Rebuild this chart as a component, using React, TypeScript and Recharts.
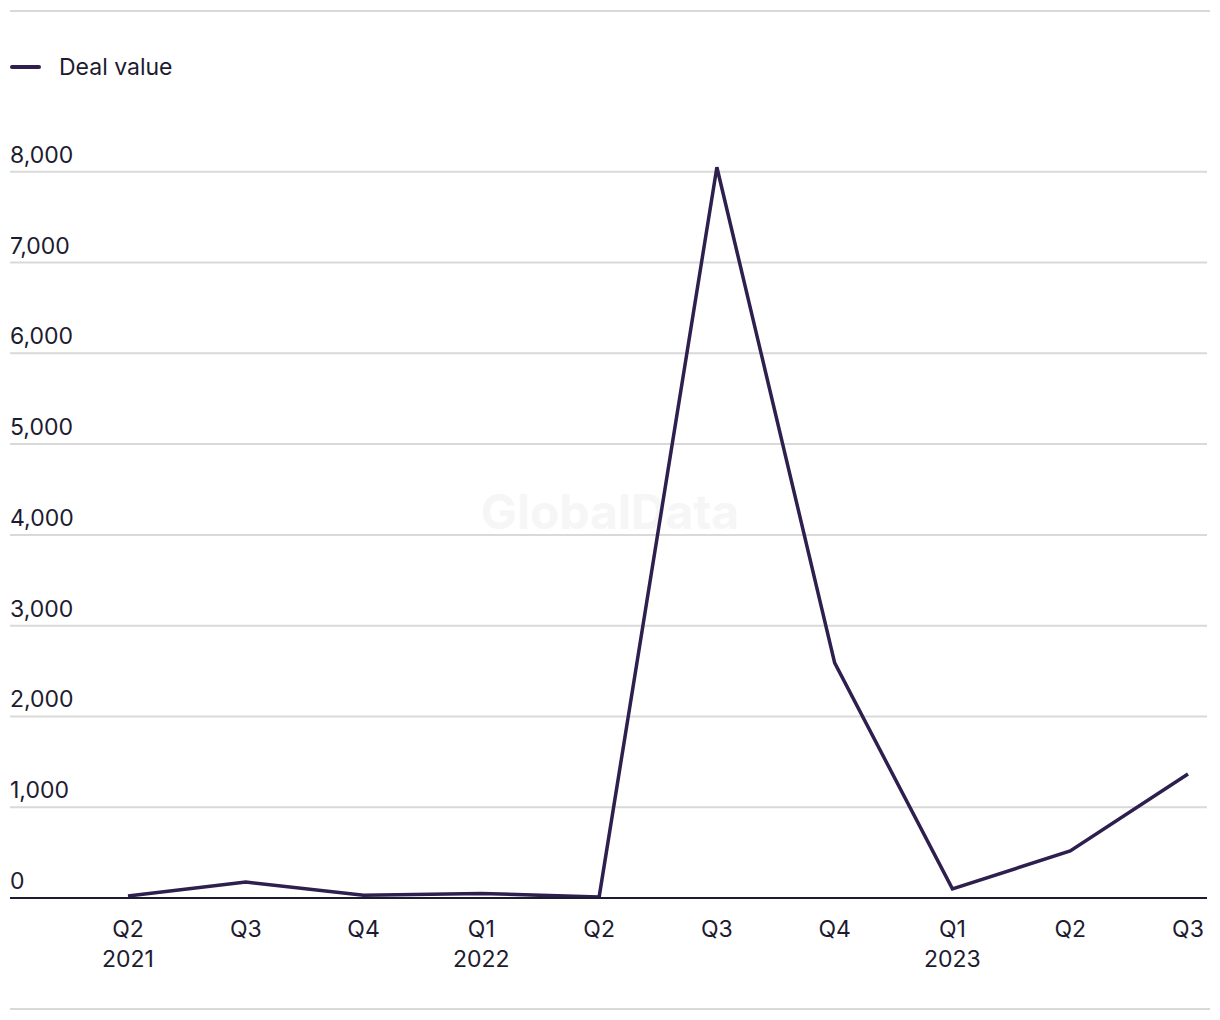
import React from "react"
import { CartesianGrid, Line, LineChart, XAxis, YAxis } from "recharts"

// quarter labels, year only on the first quarter of each year (and the first point)
const QUARTERS = ["Q2", "Q3", "Q4", "Q1", "Q2", "Q3", "Q4", "Q1", "Q2", "Q3"]
const YEARS = ["2021", "", "", "2022", "", "", "", "2023", "", ""]
const DEAL_VALUE = [22, 176, 30, 50, 10, 8050, 2590, 100, 518, 1366]
const Y_TICKS = [0, 1000, 2000, 3000, 4000, 5000, 6000, 7000, 8000]

const TEXT = "#1d1b2f"
const LINE = "#2e1f4f"
const GRID = "#d9d9d9"
const FONT = "Inter, 'Noto Sans', sans-serif"
const FS = 23

const data = QUARTERS.map((q, i) => ({
  key: `${q}-${i}`,
  quarter: q,
  year: YEARS[i],
  value: DEAL_VALUE[i],
}))

function XTick({ x, y, payload }: any) {
  const row = data[payload.index]
  return (
    <g>
      <text x={x} y={y + 31} textAnchor="middle" fill={TEXT} fontSize={FS} fontFamily={FONT}>
        {row.quarter}
      </text>
      {row.year && (
        <text x={x} y={y + 61} textAnchor="middle" fill={TEXT} fontSize={FS} fontFamily={FONT}>
          {row.year}
        </text>
      )}
    </g>
  )
}

function YTick({ y, payload }: any) {
  return (
    <text x={10} y={y - 9} textAnchor="start" fill={TEXT} fontSize={FS} fontFamily={FONT}>
      {Number(payload.value).toLocaleString("en-US")}
    </text>
  )
}

export default function App() {
  return (
    <div style={{ position: "absolute", left: 0, top: 0, width: 1220, height: 1020, background: "#fff" }}>
      <div style={{ position: "absolute", left: 10, top: 10, width: 1200, height: 2, background: GRID }} />
      <div style={{ position: "absolute", left: 10, top: 1008, width: 1200, height: 2, background: GRID }} />
      <div
        style={{
          position: "absolute",
          left: 0,
          width: 1220,
          top: 482,
          textAlign: "center",
          fontFamily: FONT,
          fontWeight: 700,
          fontSize: 48,
          color: "#f6f6f6",
        }}
      >
        GlobalData
      </div>
      <div
        style={{
          position: "absolute",
          left: 10,
          top: 52,
          display: "flex",
          alignItems: "center",
          fontFamily: FONT,
          fontSize: FS,
          color: TEXT,
          lineHeight: "30px",
        }}
      >
        <span style={{ width: 31, height: 4, background: LINE, borderRadius: 2, marginRight: 18 }} />
        <span>Deal value</span>
      </div>
      <div style={{ position: "absolute", left: 0, top: 0 }}>
        <LineChart width={1220} height={1020} data={data} margin={{ top: 81, right: 13, bottom: 62, left: 9 }}>
          <CartesianGrid vertical={false} horizontalValues={Y_TICKS} stroke={GRID} strokeWidth={2} />
          <XAxis
            dataKey="key"
            height={60}
            padding={{ left: 118, right: 19 }}
            axisLine={{ stroke: TEXT, strokeWidth: 2 }}
            tickLine={false}
            tick={<XTick />}
            interval={0}
          />
          <YAxis
            width={1}
            domain={[0, 9000]}
            ticks={Y_TICKS}
            interval={0}
            axisLine={false}
            tickLine={false}
            tick={<YTick />}
          />
          <Line
            type="linear"
            dataKey="value"
            name="Deal value"
            stroke={LINE}
            strokeWidth={3.5}
            dot={false}
            activeDot={false}
            isAnimationActive={false}
          />
        </LineChart>
      </div>
    </div>
  )
}
